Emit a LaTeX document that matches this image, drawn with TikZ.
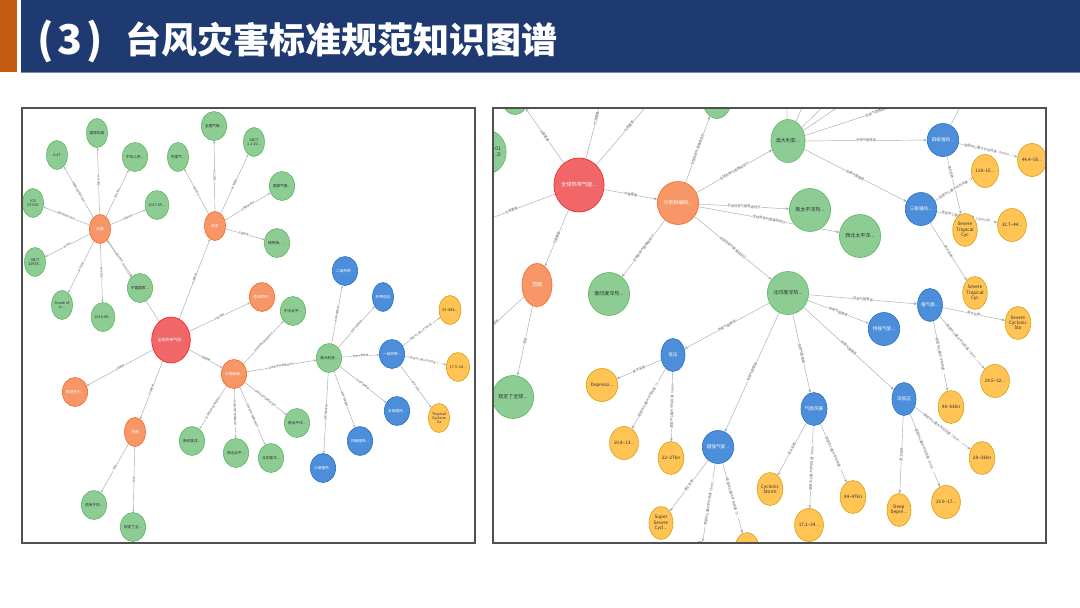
\documentclass[tikz,border=0pt]{standalone}
\usepackage{fontspec}
\setmainfont{Noto Sans CJK SC}
\usetikzlibrary{shapes.geometric,arrows.meta,backgrounds}
\pgfdeclarelayer{bottom}
\pgfsetlayers{bottom,background,main}
\definecolor{gF}{HTML}{8DCC93}\definecolor{gD}{HTML}{5DB665}
\definecolor{oF}{HTML}{F79767}\definecolor{oD}{HTML}{F36924}
\definecolor{rF}{HTML}{F16667}\definecolor{rD}{HTML}{EB2728}
\definecolor{bF}{HTML}{4C8EDA}\definecolor{bD}{HTML}{2870C2}
\definecolor{yF}{HTML}{FFC454}\definecolor{yD}{HTML}{D7A013}
\definecolor{eC}{HTML}{A5ABB6}\definecolor{labC}{HTML}{606060}
\definecolor{txtD}{HTML}{2A2C34}
\definecolor{navy}{HTML}{1E3A70}\definecolor{orng}{HTML}{C55A11}
\definecolor{panelC}{HTML}{505050}
\tikzset{
 nd/.style={ellipse, draw, line width=0.6pt, inner sep=0pt, align=center},
 Ls/.style={minimum width=21pt, minimum height=29pt, font=\fontsize{3.7}{4.3}\selectfont},
 Lr/.style={minimum width=34pt, minimum height=46pt, font=\fontsize{4}{4.6}\selectfont},
 Rb/.style={minimum width=30pt, minimum height=43pt, font=\fontsize{5}{5.8}\selectfont},
 Rs/.style={minimum width=24pt, minimum height=33pt, font=\fontsize{4.6}{5.3}\selectfont},
 Rr/.style={minimum width=40pt, minimum height=54pt, font=\fontsize{5.2}{6}\selectfont},
 gnode/.style={nd, fill=gF, draw=gD, text=txtD},
 onode/.style={nd, fill=oF, draw=oD, text=white},
 rnode/.style={nd, fill=rF, draw=rD, text=white},
 bnode/.style={nd, fill=bF, draw=bD, text=white},
 ynode/.style={nd, fill=yF, draw=yD, text=txtD},
 ed/.style={draw=eC, line width=0.45pt},
 lar/.style={-{Stealth[length=2.6pt,width=2.2pt]}},
 rar/.style={-{Stealth[length=3.4pt,width=2.8pt]}},
 el/.style={sloped, fill=white, inner sep=0.3pt, text=labC},
 lf/.style={font=\fontsize{2.6}{3}\selectfont},
 rf/.style={font=\fontsize{3.3}{4}\selectfont},
 panel/.style={draw=panelC, line width=1.1pt},
 ttl/.style={text=white, inner sep=0pt, font=\fontsize{36}{40}\selectfont\bfseries},
 ttlnum/.style={text=white, inner sep=0pt, font=\fontsize{41}{44}\selectfont\bfseries},
}
\newcommand\LEdge[3]{\draw[ed,lar] (#1) -- node[el,lf,midway]{#3} (#2);}
\newcommand\REdge[3]{\draw[ed,rar] (#1) -- node[el,rf,midway]{#3} (#2);}
\newcommand\REdgeAt[4]{\draw[ed,rar] (#2) -- node[el,rf,pos=#1]{#4} (#3);}
\newcommand\RLine[2]{\draw[ed,rar] (#1) -- (#2);}
\begin{document}
\begin{tikzpicture}[x=1pt,y=-1pt]
\useasboundingbox (0,0) rectangle (1080,608);
\begin{pgfonlayer}{bottom}
\fill[white] (0,0) rectangle (1080,608);
\end{pgfonlayer}
% title bar
\fill[navy] (21,0) rectangle (1080,72);
\fill[orng] (0,0) rectangle (17,72);
\draw[color=navy!60, line width=0.8pt] (21,72.4) -- (1080,72.4);
\node[ttlnum, anchor=base west] (t1) at (37,54) {(\hspace{4pt}3\hspace{4pt})};
\node[ttl, anchor=base west] (t2) at (125,53) {台风灾害标准规范知识图谱};

% ================= LEFT PANEL =================
\begin{scope}
\clip (22,108) rectangle (475,543);
\node[rnode,Lr] (L0) at (171,340) {全球热带气旋...};
\node[onode,Ls] (Lfm) at (100,229) {封面};
\node[onode,Ls] (Lqy) at (215,226) {前言};
\node[onode,Ls] (Lzt) at (262,297) {总体原则...};
\node[onode,Ls] (Lfl) at (234,374) {分类和编...};
\node[onode,Ls] (Lgf) at (75,392) {规范性引...};
\node[onode,Ls] (Lfw) at (135,432) {范围};
% cover
\node[gnode,Ls] (g1) at (97,133) {国家标准};
\node[gnode,Ls] (g2) at (57,155) {A 47};
\node[gnode,Ls] (g3) at (135,157) {中华人民...};
\node[gnode,Ls] (g4) at (157,205) {2017-09...};
\node[gnode,Ls] (g5) at (33,203) {ICS\\07.060};
\node[gnode,Ls] (g6) at (35,262) {GB/T\\32935...};
\node[gnode,Ls] (g7) at (62,305) {Grade of\\tr...};
\node[gnode,Ls] (g8) at (103,317) {2016-08...};
\node[gnode,Ls] (g9) at (140,288) {中国国家...};
% foreword
\node[gnode,Ls] (h1) at (178,157) {中国气...};
\node[gnode,Ls] (h2) at (214,126) {全国气象...};
\node[gnode,Ls] (h3) at (254,142) {GB/T\\1.1-20...};
\node[gnode,Ls] (h4) at (282,186) {国家气象...};
\node[gnode,Ls] (h5) at (277,243) {钱传海、...};
% classification
\node[gnode,Ls] (k1) at (192,441) {南印度洋...};
\node[gnode,Ls] (k2) at (236,453) {西北太平...};
\node[gnode,Ls] (k3) at (271,458) {北印度洋...};
\node[gnode,Ls] (k4) at (297,423) {南太平洋...};
\node[gnode,Ls] (k5) at (293,311) {中北太平...};
\node[gnode,Ls] (k6) at (329,358) {澳大利亚...};
\node[bnode,Ls] (b1) at (345,271) {二级热带...};
\node[bnode,Ls] (b2) at (383,297) {热带低压};
\node[bnode,Ls] (b3) at (392,354) {一级热带...};
\node[bnode,Ls] (b4) at (397,411) {五级强热...};
\node[bnode,Ls] (b5) at (360,441) {四级强热...};
\node[bnode,Ls] (b6) at (323,468) {三级强热...};
\node[ynode,Ls] (y1) at (450,310) {63\textasciitilde88k...};
\node[ynode,Ls] (y2) at (458,367) {17.3\textasciitilde24...};
\node[ynode,Ls] (y3) at (439,418) {Tropical\\Cyclone\\Ca};
% scope
\node[gnode,Ls] (f1) at (94,505) {适用于热...};
\node[gnode,Ls] (f2) at (133,527) {规定了全...};
\end{scope}
\begin{pgfonlayer}{background}
\begin{scope}
\clip (22,108) rectangle (475,543);
\LEdge{L0}{Lfm}{内容要素}
\LEdge{L0}{Lqy}{内容要素}
\LEdge{L0}{Lzt}{内容要素}
\LEdge{L0}{Lfl}{内容要素}
\LEdge{L0}{Lgf}{内容要素}
\LEdge{L0}{Lfw}{内容要素}
\LEdge{Lfm}{g1}{文件类型}
\LEdge{Lfm}{g2}{中国标准文献分类号}
\LEdge{Lfm}{g3}{发布单位}
\LEdge{Lfm}{g4}{实施时间}
\LEdge{Lfm}{g5}{国际标准分类号}
\LEdge{Lfm}{g6}{标准号}
\LEdge{Lfm}{g7}{英文名称}
\LEdge{Lfm}{g8}{发布时间}
\LEdge{Lfm}{g9}{提出单位}
\LEdge{Lqy}{h1}{提出单位}
\LEdge{Lqy}{h2}{归口单位}
\LEdge{Lqy}{h3}{起草规则}
\LEdge{Lqy}{h4}{主要起草单位}
\LEdge{Lqy}{h5}{主要起草人}
\LEdge{Lfl}{k1}{全球热带气旋等级划分}
\LEdge{Lfl}{k2}{全球热带气旋等级划分}
\LEdge{Lfl}{k3}{全球热带气旋等级划分}
\LEdge{Lfl}{k4}{全球热带气旋等级划分}
\LEdge{Lfl}{k5}{全球热带气旋等级划分}
\LEdge{Lfl}{k6}{全球热带气旋等级划分}
\LEdge{k6}{b1}{热带气旋等级}
\LEdge{k6}{b2}{热带气旋等级}
\LEdge{k6}{b3}{热带气旋等级}
\LEdge{k6}{b4}{热带气旋等级}
\LEdge{k6}{b5}{热带气旋等级}
\LEdge{k6}{b6}{热带气旋等级}
\LEdge{b3}{y1}{底层中心最大平均风速...}
\LEdge{b3}{y2}{底层中心最大平均风速（...}
\LEdge{b3}{y3}{英文名称}
\LEdge{Lfw}{f1}{适用}
\LEdge{Lfw}{f2}{规定}
\end{scope}
\end{pgfonlayer}
\draw[panel] (22,108) rectangle (475,543);

% ================= RIGHT PANEL =================
\begin{scope}
\clip (493,108) rectangle (1046,543);
\node[rnode,Rr] (R0) at (579,185) {全球热带气旋...};
\node[gnode,Rb] (tg1) at (515,93) {};
\node[gnode,Rb,align=right] (lg1) at (488,152) {2017-09-01\\...D};
\node[onode,Rb] (RC) at (678,203) {分类和编码...};
\node[onode,Rb] (RF) at (537,285) {范围};
\node[gnode,Rb] (tg2) at (717,97) {};
\node[gnode,Rb] (AU) at (788,141) {澳大利亚...};
\node[gnode,Rb] (SP) at (810,210) {南太平洋热...};
\node[gnode,Rb] (NWP) at (860,236) {西北太平洋...};
\node[gnode,Rb] (SI) at (609,294) {南印度洋热...};
\node[gnode,Rb] (NI) at (788,293) {北印度洋热...};
\node[gnode,Rb] (FG) at (513,397) {规定了全球...};
\node[bnode,Rs] (L4) at (943,140) {四级强热...};
\node[bnode,Rs] (L3) at (921,209) {三级强热...};
\node[ynode,Rs] (Y44) at (1032,160) {44.4\textasciitilde55...};
\node[ynode,Rs] (Y118) at (985,171) {118\textasciitilde15...};
\node[ynode,Rs] (Y327) at (1012,225) {32.7\textasciitilde44...};
\node[ynode,Rs] (STC1) at (965,230) {Severe\\Tropical\\Cyc};
\node[ynode,Rs] (STC2) at (975,293) {Severe\\Tropical\\Cyc};
\node[ynode,Rs] (SCS) at (1018,323) {Severe\\Cyclonic\\Sto};
\node[ynode,Rs] (topY) at (1033,92) {};
\node[bnode,Rs] (QX) at (930,305) {强气旋...};
\node[bnode,Rs] (TQ) at (884,329) {特强气旋...};
\node[bnode,Rs] (SD) at (904,399) {深低压};
\node[bnode,Rs] (QF) at (814,409) {气旋风暴};
\node[bnode,Rs] (CQ) at (718,447) {超强气旋...};
\node[bnode,Rs] (DY) at (673,355) {低压};
\node[ynode,Rs] (Y245) at (995,381) {24.5\textasciitilde32...};
\node[ynode,Rs] (Y48) at (951,407) {48\textasciitilde63kn};
\node[ynode,Rs] (Y28) at (982,458) {28\textasciitilde33kn};
\node[ynode,Rs] (Y139) at (946,502) {13.9\textasciitilde17...};
\node[ynode,Rs] (DD) at (899,510) {Deep\\Depre...};
\node[ynode,Rs] (CS) at (770,489) {Cyclonic\\Storm};
\node[ynode,Rs] (Y172) at (809,525) {17.2\textasciitilde24...};
\node[ynode,Rs] (Y34) at (853,497) {34\textasciitilde47kn};
\node[ynode,Rs] (SSC) at (661,523) {Super\\Severe\\Cycl...};
\node[ynode,Rs] (Yb1) at (700,558) {};
\node[ynode,Rs] (Yb2) at (747,549) {};
\node[ynode,Rs] (Dep) at (602,385) {Depressi...};
\node[ynode,Rs] (Y108) at (624,443) {10.8\textasciitilde13...};
\node[ynode,Rs] (Y22) at (671,458) {22\textasciitilde27kn};
\coordinate (cUp) at (607,78);
\coordinate (cUR) at (662,88);
\coordinate (cL) at (468,227);
\coordinate (cFL) at (468,348);
\coordinate (a1) at (786,88);
\coordinate (a2) at (810,88);
\coordinate (a3) at (842,88);
\coordinate (a4) at (866,88);
\coordinate (a5) at (945,90);
\coordinate (c4u) at (972,84);
\end{scope}
\begin{pgfonlayer}{background}
\begin{scope}
\clip (493,108) rectangle (1046,543);
\REdge{R0}{tg1}{内容要素}
\REdge{R0}{cUp}{内容要素}
\REdge{R0}{cUR}{内容要素}
\REdge{R0}{cL}{内容要素}
\REdge{R0}{RC}{内容要素}
\REdge{R0}{RF}{内容要素}
\REdge{RC}{tg2}{全球热带气旋等级划分}
\REdge{RC}{AU}{全球热带气旋等级划分}
\REdge{RC}{SP}{全球热带气旋等级划分}
\REdge{RC}{NWP}{全球热带气旋等级划分}
\REdge{RC}{SI}{全球热带气旋等级划分}
\REdge{RC}{NI}{全球热带气旋等级划分}
\REdge{RF}{FG}{规定}
\REdge{RF}{cFL}{适用}
\RLine{AU}{a1}
\RLine{AU}{a2}
\RLine{AU}{a3}
\RLine{AU}{a4}
\REdge{AU}{a5}{热带气旋等级}
\REdge{AU}{L4}{热带气旋等级}
\REdge{AU}{L3}{热带气旋等级}
\REdge{L4}{Y44}{底层中心最大平均风速（10min...}
\REdgeAt{0.28}{L4}{STC1}{英文名称}
\RLine{L4}{c4u}
\REdgeAt{0.6}{L3}{Y118}{底层中心最大平均风速（10...}
\REdge{L3}{Y327}{底层中心最大平均风速（10min平...}
\REdge{L3}{STC2}{英文名称}
\REdge{NI}{QX}{热带气旋等级}
\REdge{NI}{TQ}{热带气旋等级}
\REdge{NI}{SD}{热带气旋等级}
\REdge{NI}{QF}{热带气旋等级}
\REdge{NI}{CQ}{热带气旋等级}
\REdge{NI}{DY}{热带气旋等级}
\REdge{QX}{SCS}{英文名称}
\REdge{QX}{Y245}{底层中心最大平均风速（3min...}
\REdge{QX}{Y48}{底层中心最大平均风速...}
\REdge{SD}{Y28}{底层中心最大平均风速（3min...}
\REdge{SD}{Y139}{底层中心最大平均风速（3min...}
\REdge{SD}{DD}{英文名称}
\REdge{QF}{CS}{英文名称}
\REdge{QF}{Y172}{底层中心最大平均风速（3min...}
\REdge{QF}{Y34}{底层中心最大平均风速...}
\REdge{CQ}{SSC}{英文名称}
\REdge{CQ}{Yb1}{底层中心最大平均风速（3min...}
\REdge{CQ}{Yb2}{底层中心最大平均风速（3...}
\REdge{DY}{Dep}{英文名称}
\REdge{DY}{Y108}{底层中心最大平均风速（3...}
\REdge{DY}{Y22}{底层中心最大平均风速（3min}
\end{scope}
\end{pgfonlayer}
\draw[panel] (493,108) rectangle (1046,543);
\end{tikzpicture}
\end{document}
